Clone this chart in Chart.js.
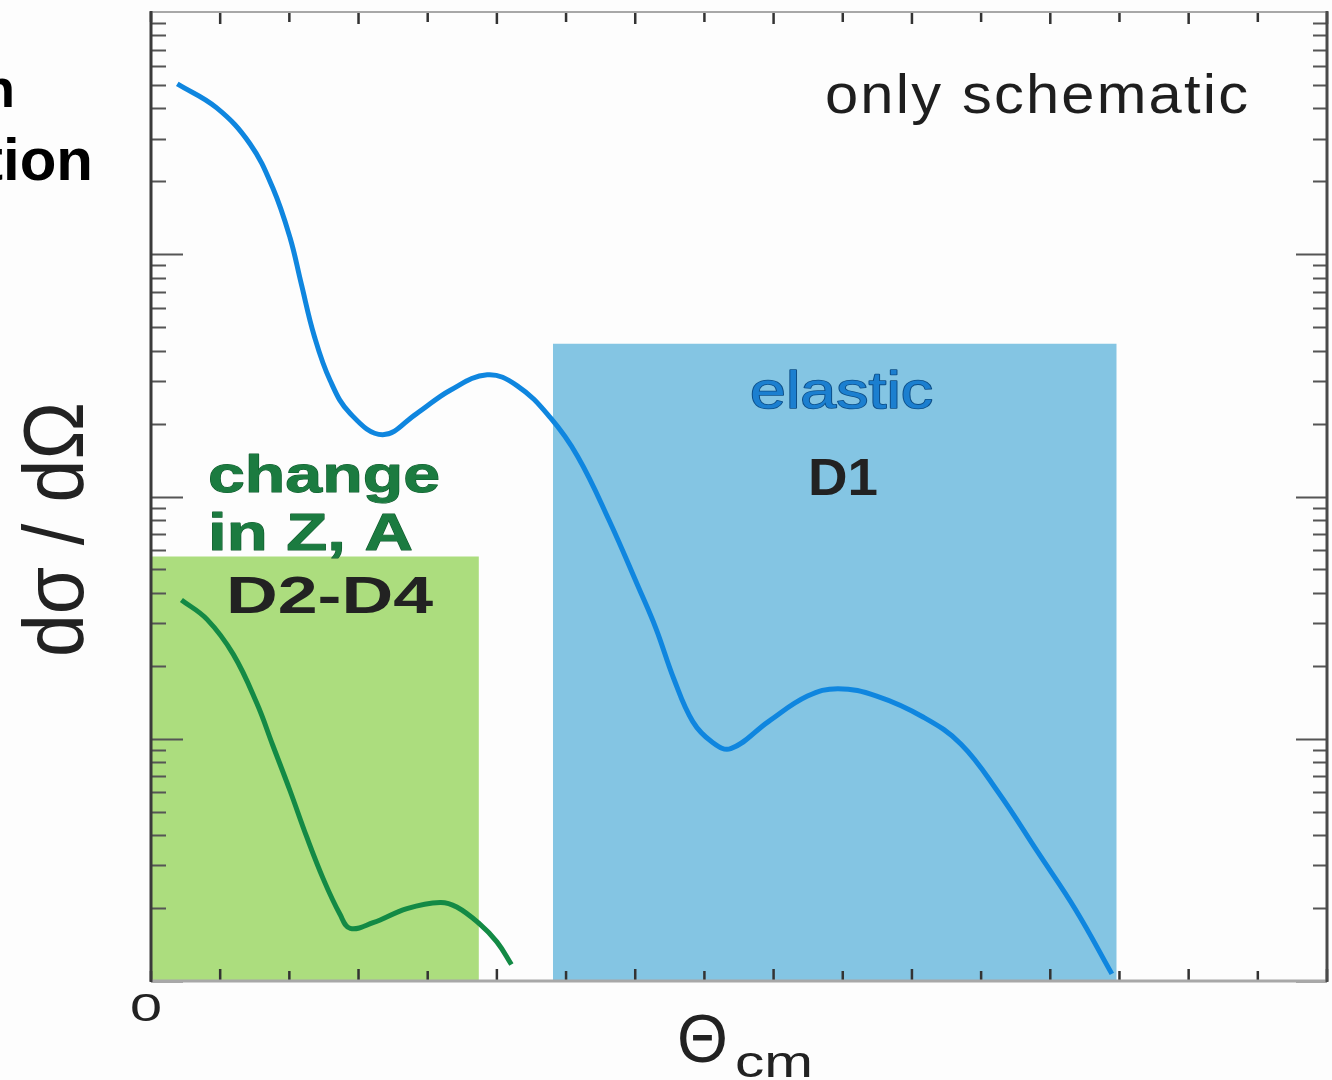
<!DOCTYPE html>
<html>
<head>
<meta charset="utf-8">
<script src="https://cdn.jsdelivr.net/npm/chart.js@4.4.1/dist/chart.umd.min.js"></script>
<style>
  html, body { margin: 0; padding: 0; background: #fdfdfd; }
  canvas { display: block; }
</style>
</head>
<body>
<canvas id="c" width="1332" height="1080"></canvas>
<script>
// ---- data (x: Θcm in tick units, y: dσ/dΩ on a log scale) ----
const blueTheta = [0.38, 0.95, 1.43, 1.76, 2.01, 2.17, 2.36, 2.59, 2.88, 3.35, 3.84, 4.32, 4.86, 5.29, 5.77, 6.17, 6.62, 7.05, 7.30, 7.56, 7.83, 8.11, 8.38, 8.93, 9.49, 9.93, 10.49, 11.16, 11.71, 12.25, 12.82, 13.37, 13.89];
const blueSigma = [5050, 4020, 2860, 1880, 1170, 760, 460, 301, 220, 180, 220, 274, 318, 287, 212, 146, 80, 42, 28.5, 17.6, 11.8, 9.7, 9.1, 11.8, 15.0, 16.1, 15.0, 12.3, 9.5, 6.0, 3.4, 1.96, 1.07];

const greenTheta = [0.44, 0.81, 1.19, 1.53, 1.76, 2.01, 2.25, 2.49, 2.73, 2.88, 3.21, 3.70, 4.18, 4.42, 4.75, 5.00, 5.21];
const greenSigma = [37.4, 31.1, 22.3, 14.0, 9.4, 6.1, 3.94, 2.64, 1.89, 1.65, 1.74, 1.99, 2.11, 2.02, 1.72, 1.45, 1.17];

const elasticWindow = [5.81, 13.96];   // D1 acceptance (x range)
const elasticTop = 427;                // D1 box height (y value)
const fragWindow = [-0.06, 4.74];      // D2-D4 acceptance (x range)
const fragTop = 56.6;                  // D2-D4 box height (y value)

const xTicks = [0, 1, 2, 3, 4, 5, 6, 7, 8, 9, 10, 11, 12, 13, 14, 15, 16, 17];
const yDecades = [1, 10, 100, 1000, 10000];
const xTickLabels = ['0'];

const toPts = (xs, ys) => xs.map((x, i) => ({ x: x, y: ys[i] }));

// ---- frame with inward ticks on all four sides ----
const framePlugin = {
  id: 'frame',
  afterDatasetsDraw(chart) {
    const { ctx, chartArea: a, scales: { x, y } } = chart;
    ctx.save();
    ctx.lineCap = 'butt';
    ctx.strokeStyle = '#555';
    ctx.lineWidth = 2;
    for (let d = 0; d < yDecades.length - 1; d++) {
      for (let m = 1; m <= 9; m++) {
        const v = yDecades[d] * m;
        const py = Math.round(y.getPixelForValue(v)) + 0.5;
        const lenL = m === 1 ? 32 : 15;
        const lenR = m === 1 ? 31 : 14;
        ctx.beginPath();
        ctx.moveTo(a.left, py); ctx.lineTo(a.left + lenL, py);
        ctx.moveTo(a.right, py); ctx.lineTo(a.right - lenR, py);
        ctx.stroke();
      }
    }
    ctx.strokeStyle = '#333';
    ctx.lineWidth = 2.5;
    xTicks.forEach((t) => {
      const px = x.getPixelForValue(t);
      const len = t % 2 === 1 ? 12 : 10;
      ctx.beginPath();
      ctx.moveTo(px, a.bottom); ctx.lineTo(px, a.bottom - len);
      ctx.moveTo(px, a.top); ctx.lineTo(px, a.top + len);
      ctx.stroke();
    });
    ctx.strokeStyle = '#a8a8a8';
    ctx.lineWidth = 2;
    ctx.beginPath(); ctx.moveTo(a.left, a.top); ctx.lineTo(a.right, a.top); ctx.stroke();
    ctx.lineWidth = 3;
    ctx.beginPath(); ctx.moveTo(a.left, a.bottom); ctx.lineTo(a.right, a.bottom); ctx.stroke();
    ctx.strokeStyle = '#3a3a3a';
    ctx.lineWidth = 3;
    ctx.beginPath(); ctx.moveTo(a.left, a.top - 1); ctx.lineTo(a.left, a.bottom + 1); ctx.stroke();
    ctx.strokeStyle = '#4a4a4a';
    ctx.beginPath(); ctx.moveTo(a.right, a.top - 1); ctx.lineTo(a.right, a.bottom + 1); ctx.stroke();
    ctx.restore();
  }
};

// ---- text helper: draw text stretched horizontally to a target width ----
function drawFit(ctx, str, x, y, font, width, fill, opts) {
  opts = opts || {};
  ctx.save();
  ctx.font = font;
  ctx.textAlign = 'left';
  ctx.textBaseline = 'alphabetic';
  const spacing = opts.spacing || 0;
  if ('letterSpacing' in ctx) ctx.letterSpacing = spacing + 'px';
  const w0 = ctx.measureText(str).width - spacing;
  ctx.translate(x, y);
  if (opts.rotate) ctx.rotate(opts.rotate);
  ctx.scale(width / w0, 1);
  if (opts.stroke) {
    ctx.strokeStyle = opts.stroke;
    ctx.lineWidth = opts.strokeWidth || 1.5;
    ctx.lineJoin = 'round';
    ctx.strokeText(str, 0, 0);
  }
  ctx.fillStyle = fill;
  ctx.fillText(str, 0, 0);
  ctx.restore();
}

const textPlugin = {
  id: 'labels',
  afterDraw(chart) {
    const ctx = chart.ctx;
    const F = '"Liberation Sans", Arial, sans-serif';
    // cut-off title on the left edge
    ctx.save();
    ctx.fillStyle = '#000';
    ctx.textAlign = 'right';
    ctx.font = 'bold 54px ' + F;
    ctx.fillText('n', 15, 107);
    ctx.font = 'bold 60px ' + F;
    ctx.fillText('tion', 93, 180);
    ctx.restore();

    drawFit(ctx, 'only schematic', 825, 113, '55px ' + F, 423, '#1e1e1e', { spacing: 2 });
    drawFit(ctx, 'elastic', 750, 408, '52px ' + F, 183, '#1b7fd0', { stroke: '#0d4f88', strokeWidth: 1.6 });
    drawFit(ctx, 'D1', 808, 495, 'bold 52px ' + F, 70, '#222');
    drawFit(ctx, 'change', 208, 492, 'bold 52px ' + F, 232, '#1b7b40', { stroke: '#0f5a2c', strokeWidth: 1 });
    drawFit(ctx, 'in Z, A', 208, 550, 'bold 52px ' + F, 205, '#1b7b40', { stroke: '#0f5a2c', strokeWidth: 1 });
    drawFit(ctx, 'D2-D4', 226, 613, 'bold 52px ' + F, 207, '#222');

    // axis titles
    drawFit(ctx, 'dσ / dΩ', 83, 657, '86px ' + F, 255, '#222', { rotate: -Math.PI / 2 });
    drawFit(ctx, 'Θ', 677, 1062, '68px ' + F, 51, '#222');
    drawFit(ctx, 'cm', 735, 1077, '45px ' + F, 78, '#222');
    // x origin label
    const x0 = chart.scales.x.getPixelForValue(xTicks[0]);
    drawFit(ctx, xTickLabels[0], x0 - 21, 1021, '38px ' + F, 32, '#222');
  }
};

new Chart(document.getElementById('c').getContext('2d'), {
  type: 'line',
  data: {
    datasets: [
      { label: 'elastic', data: toPts(blueTheta, blueSigma), borderColor: '#0f86df', borderWidth: 5, pointRadius: 0, tension: 0.4, fill: false, order: 0 },
      { label: 'change in Z, A', data: toPts(greenTheta, greenSigma), borderColor: '#138a45', borderWidth: 5, pointRadius: 0, tension: 0.4, fill: false, order: 0 },
      { label: 'D1', data: [{ x: elasticWindow[0], y: elasticTop }, { x: elasticWindow[1], y: elasticTop }], borderWidth: 0, borderColor: 'rgba(0,0,0,0)', pointRadius: 0, fill: 'start', backgroundColor: '#84c5e3', order: 1, clip: false },
      { label: 'D2-D4', data: [{ x: fragWindow[0], y: fragTop }, { x: fragWindow[1], y: fragTop }], borderWidth: 0, borderColor: 'rgba(0,0,0,0)', pointRadius: 0, fill: 'start', backgroundColor: '#acdd7e', order: 1, clip: false }
    ]
  },
  options: {
    responsive: false,
    animation: false,
    devicePixelRatio: 1,
    layout: { padding: { left: 151, right: 5, top: 12, bottom: 99 } },
    plugins: { legend: { display: false }, tooltip: { enabled: false } },
    scales: {
      x: { type: 'linear', min: 0, max: 17, display: false },
      y: { type: 'logarithmic', min: 1, max: 10000, display: false }
    }
  },
  plugins: [framePlugin, textPlugin]
});
</script>
</body>
</html>
